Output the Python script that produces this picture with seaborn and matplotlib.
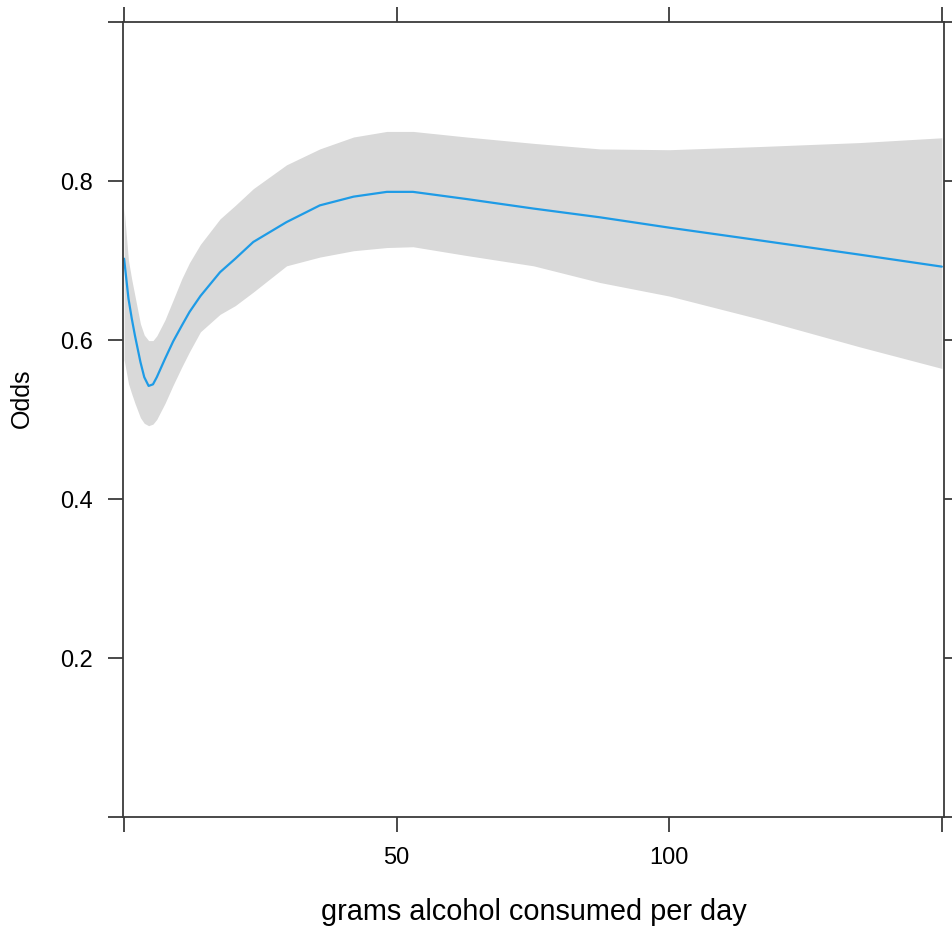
import numpy as np
import pandas as pd
import matplotlib
matplotlib.use("Agg")
import matplotlib.pyplot as plt
import seaborn as sns

# valeurs
grams = [0, 0.8, 1.4, 2.0, 3.0, 3.7, 4.5, 5.3, 6.0, 7.5, 9.0, 10.6, 12.0, 14.0,
         17.6, 20.4, 23.7, 29.8, 35.9, 42.1, 48.2, 53.0, 62.8, 75.1, 87.3,
         100.0, 116.6, 135.0, 150.0]
odds = [0.702, 0.652, 0.627, 0.605, 0.572, 0.553, 0.542, 0.544, 0.553, 0.576,
        0.598, 0.618, 0.635, 0.655, 0.685, 0.702, 0.723, 0.748, 0.769, 0.780,
        0.786, 0.786, 0.777, 0.765, 0.754, 0.741, 0.725, 0.707, 0.692]
upper = [0.765, 0.700, 0.676, 0.655, 0.620, 0.606, 0.599, 0.599, 0.605, 0.625,
         0.650, 0.677, 0.697, 0.720, 0.752, 0.769, 0.790, 0.820, 0.840, 0.855,
         0.862, 0.862, 0.855, 0.847, 0.840, 0.839, 0.843, 0.848, 0.854]
lower = [0.575, 0.545, 0.532, 0.520, 0.502, 0.495, 0.492, 0.494, 0.500, 0.520,
         0.543, 0.566, 0.585, 0.610, 0.632, 0.643, 0.660, 0.693, 0.704, 0.712,
         0.716, 0.717, 0.706, 0.693, 0.672, 0.655, 0.626, 0.591, 0.564]

xticks = [0, 50, 100, 150]
xlabels = ["", "50", "100", ""]
yticks = [0, 0.2, 0.4, 0.6, 0.8, 1.0]
ylabels = ["", "0.2", "0.4", "0.6", "0.8", ""]

df = pd.DataFrame({"grams": grams, "odds": odds, "lower": lower, "upper": upper})

sns.set_style("ticks")
plt.rcParams["font.family"] = ["Liberation Sans", "DejaVu Sans"]

fig = plt.figure(figsize=(9.52, 9.29), dpi=100)
ax = fig.add_axes([0.1292, 0.1195, 0.8624, 0.8561])

ax.fill_between(df["grams"], df["lower"], df["upper"], color="#d9d9d9", lw=0)
sns.lineplot(data=df, x="grams", y="odds", ax=ax, color="#1e9be6", lw=1.6)

ax.set_xlim(-0.2, 150.4)
ax.set_ylim(0, 1.0)
ax.set_xticks(xticks)
ax.set_xticklabels(xlabels)
ax.set_yticks(yticks)
ax.set_yticklabels(ylabels)

frame = "#3a3a3a"
for s in ax.spines.values():
    s.set_visible(True)
    s.set_color(frame)
    s.set_linewidth(1.3)
ax.tick_params(axis="both", which="major", direction="out", length=10.8,
               width=1.3, color=frame, labelsize=17, labelcolor="black",
               top=True, right=True, labeltop=False, labelright=False)
ax.tick_params(axis="x", pad=10)
ax.tick_params(axis="y", pad=11)

ax.set_xlabel("grams alcohol consumed per day", fontsize=20.8, color="black", va="center")
ax.set_ylabel("Odds", fontsize=18, color="black", va="center")
ax.xaxis.set_label_coords(0.5, -0.118)
ax.yaxis.set_label_coords(-0.123, 0.528)

fig.savefig("out.png", dpi=100)
